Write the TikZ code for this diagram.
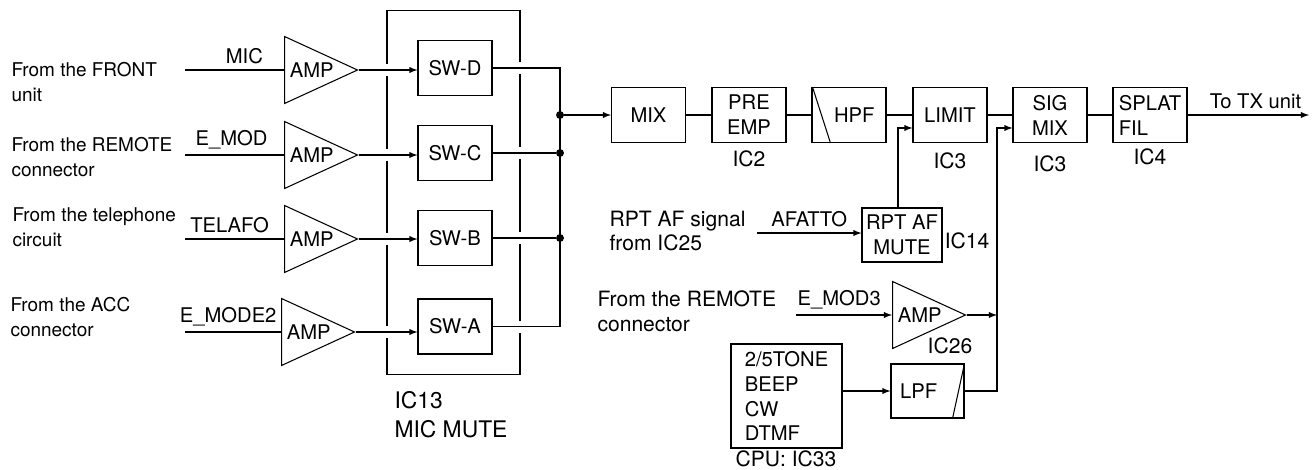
\documentclass[tikz,border=0pt]{standalone}
\usepackage{fontspec}
\setmainfont{TeX Gyre Heros}
\usetikzlibrary{positioning,shapes.geometric}

\begin{document}
\begin{tikzpicture}[x=0.02cm,y=-0.02cm,>=latex,line width=0.6pt,
  font=\fontsize{11.5}{14.2}\selectfont,
  blk/.style={draw,minimum width=1.48cm,minimum height=1.1cm,inner sep=1pt,align=center},
  amp/.style={draw,isosceles triangle,isosceles triangle stretches,
    minimum width=1.34cm,minimum height=1.46cm,inner sep=0pt,anchor=west},
  amptxt/.style={inner sep=1pt,anchor=west},
  ic/.style={inner sep=1pt,font=\fontsize{12}{14}\selectfont},
  src/.style={anchor=west,align=left,inner sep=0pt,font=\fontsize{10.8}{14.2}\selectfont},
  srcr/.style={anchor=west,align=left,inner sep=0pt,font=\fontsize{12}{14.2}\selectfont},
  dot/.style={circle,fill,inner sep=0pt,minimum size=4.5pt}]
  \useasboundingbox (0,0) rectangle (1316,470);

  % 信号来源
  \node[src] (srcD) at (11,82) {From the FRONT\\unit};
  \node[src] (srcC) at (11,157) {From the REMOTE\\connector};
  \node[src] (srcB) at (12,227) {From the telephone\\circuit};
  \node[src] (srcA) at (10,317) {From the ACC\\connector};

  % 输入放大器
  \node[amp] (ampD) at (284,70) {};
  \node[amp] (ampC) at (284,155) {};
  \node[amp] (ampB) at (284,239) {};
  \node[amp] (ampA) at (281,332) {};
  \foreach \n in {D,C,B,A}
    \node[amptxt] (amp\n t) at ([xshift=2pt]amp\n.west) {AMP};

  \coordinate (inD) at (185,70);
  \coordinate (inC) at (185,155);
  \coordinate (inB) at (185,239);
  \coordinate (inA) at (185,332);
  \draw (inD) -- node[above,pos=0.6] (micL) {MIC} (ampD.west);
  \draw (inC) -- node[above,pos=0.47] (emodL) {E\_MOD} (ampC.west);
  \draw (inB) -- node[above,pos=0.45] (telL) {TELAFO} (ampB.west);
  \draw (inA) -- node[above,pos=0.45] (emod2L) {E\_MODE2} (ampA.west);

  % IC13 开关
  \node[draw,minimum width=2.66cm,minimum height=7.3cm,inner sep=0pt] (ic13box) at (453.5,192.5) {};
  \node[blk] (swD) at (455,68) {SW-D};
  \node[blk] (swC) at (455,153) {SW-C};
  \node[blk] (swB) at (455,238) {SW-B};
  \node[blk] (swA) at (455,326.5) {SW-A};
  \node[anchor=west,align=left,inner sep=0pt,font=\fontsize{13}{16.5}\selectfont] (ic13) at (394,415) {IC13\\MIC MUTE};

  % 交叉处断开
  \foreach \y in {70,155,239,332}
    \fill[white] (382,\y-6) rectangle (392,\y+6);
  \foreach \y in {68,153,238,326.5}
    \fill[white] (515,\y-6) rectangle (525,\y+6);

  \foreach \n in {D,C,B,A}
    \draw[->] (amp\n.apex) -- (sw\n.west |- amp\n.apex);

  % 汇合
  \coordinate (busD) at (560,68);
  \coordinate (busA) at (560,326.5);
  \node[dot] (jM) at (560,115) {};
  \node[dot] (jC) at (swC.east -| busD) {};
  \node[dot] (jB) at (swB.east -| busD) {};
  \draw (swD.east) -- (busD) -- (busA) -- (swA.east);
  \draw (swC.east) -- (jC);
  \draw (swB.east) -- (jB);

  % 主信号链
  \node[blk] (mix) at (648.5,115) {MIX};
  \node[blk] (pre) at (749,115) {PRE\\EMP};
  \node[blk] (hpf) at (849,115) {\hspace*{6pt}HPF};
  \node[blk] (lim) at (950,115) {LIMIT};
  \node[blk] (sig) at (1050,115) {SIG\\MIX};
  \node[blk,align=left] (splat) at (1150,115) {SPLAT\\FIL};
  \coordinate (txout) at (1309,115);

  \draw[->] (jM) -- (mix);
  \draw (mix) -- (pre);
  \draw (pre) -- (hpf);
  \draw (hpf) -- (lim);
  \draw (lim) -- (sig);
  \draw (sig) -- (splat);
  \draw[->] (splat) -- node[above,pos=0.56] (txL) {To TX unit} (txout);
  \draw ([xshift=0.02cm]hpf.north west) -- ([xshift=0.38cm]hpf.south west);

  \node[ic,below=3pt of pre] (ic2) {IC2};
  \node[ic,below=4pt of lim] (ic3a) {IC3};
  \node[ic,below=6pt of sig] (ic3b) {IC3};
  \node[ic,below=2pt of splat] (ic4) {IC4};

  % RPT AF 静音
  \node[srcr] (rptsrc) at (609,231) {RPT AF signal\\from IC25};
  \node[blk,minimum width=1.6cm,minimum height=1.08cm] (rpt) at (902,235) {RPT AF\\MUTE};
  \node[ic,anchor=west] (ic14) at ([yshift=-0.12cm]rpt.east) {IC14};
  \coordinate (afin) at (757,233);
  \draw[->] (afin) -- node[above] (afL) {AFATTO} (afin -| rpt.west);
  \draw[->] ([xshift=-0.08cm]rpt.north) |- ([yshift=-0.26cm]lim.west);

  % 远程输入与 CPU
  \node[srcr] (remsrc) at (597,311) {From the REMOTE\\connector};
  \node[amp] (amp26) at (892,315) {};
  \node[amptxt] (amp26t) at ([xshift=2pt]amp26.west) {AMP};
  \node[ic] (ic26) at (950,346) {IC26};
  \coordinate (emin) at (796,315);
  \draw[->] (emin) -- node[above,pos=0.45] (emod3L) {E\_MOD3} (amp26.west);

  \node[draw,minimum width=2.22cm,minimum height=2.08cm,align=left] (cpu) at (786.5,396) {2/5TONE\\BEEP\\CW\\DTMF};
  \node[ic,inner sep=0pt] (ic33) at (786,459) {CPU: IC33};
  \node[blk,minimum width=1.46cm,minimum height=1.08cm] (lpf) at (927.5,391) {LPF\hspace*{10pt}};
  \draw ([xshift=-0.24cm]lpf.south east) -- (lpf.north east);
  \draw[->] (cpu.east |- lpf.west) -- (lpf.west);

  \coordinate (sbus) at (997,0);
  \draw[->] (lpf.east) -- (lpf.east -| sbus) |- ([yshift=-0.26cm]sig.west);
  \draw[->] (amp26.apex) -- (amp26.apex -| sbus);
\end{tikzpicture}
\end{document}
